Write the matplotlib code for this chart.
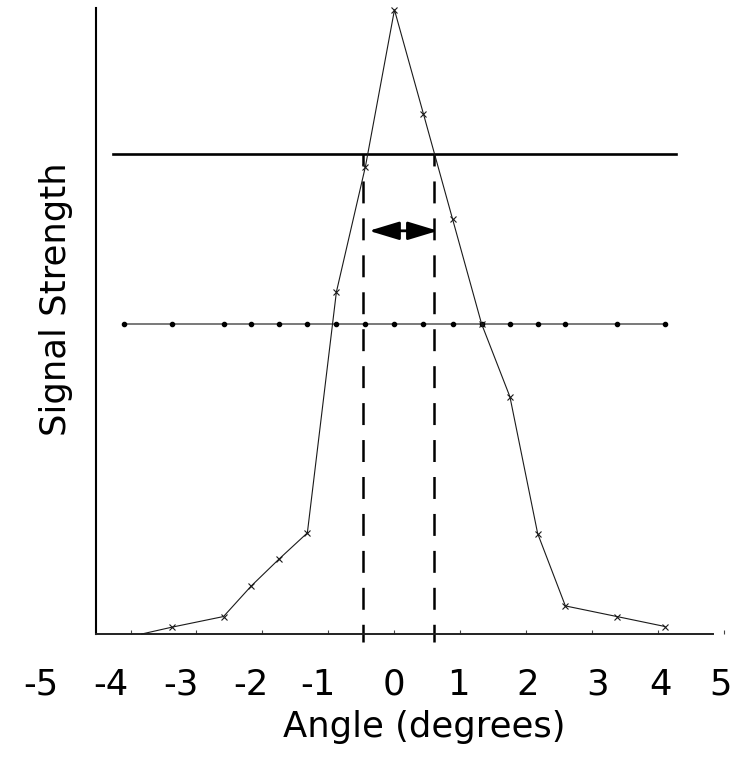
import matplotlib.pyplot as plt
from matplotlib.patches import FancyArrowPatch

plt.rcParams['font.family'] = ['DejaVu Sans']
plt.rcParams['lines.scale_dashes'] = False

# Beam pattern samples (angle in degrees, relative signal strength)
angle = [-3.83, -3.37, -2.59, -2.17, -1.75, -1.32, -0.88, -0.44, 0.0,
         0.44, 0.88, 1.32, 1.75, 2.17, 2.59, 3.37, 4.10]
strength = [0.0, 0.011, 0.028, 0.077, 0.120, 0.162, 0.548, 0.749, 1.0,
            0.833, 0.665, 0.497, 0.380, 0.161, 0.045, 0.028, 0.012]

# Half-power level (dotted) and beamwidth reference level (solid)
half_level = 0.497
half_x = [-4.10] + angle[1:]
ref_level = 0.769
ref_span = [-4.27, 4.27]

# Beamwidth edges and the arrow between them
edges = [-0.48, 0.60]
arrow_x = [-0.386, 0.659]
arrow_y = 0.646

tick_pos = [-4, -3, -2, -1, 0, 1, 2, 3, 4, 5]
label_text = ['-5', '-4', '-3', '-2', '-1', '0', '1', '2', '3', '4', '5']
label_pos = [-5.356, -4.295, -3.235, -2.174, -1.159, -0.008, 0.962,
             2.023, 3.083, 4.038, 4.947]

fig = plt.figure(figsize=(7.41, 7.63), dpi=100)
ax = fig.add_axes([96 / 741, 129 / 763, 635 / 741, 626 / 763])
ax.set_xlim(-4.523, 5.1)
ax.set_ylim(0, 1.003)

for s in ['top', 'right']:
    ax.spines[s].set_visible(False)
ax.spines['left'].set_linewidth(1.5)
ax.spines['left'].set_color('black')
ax.spines['bottom'].set_linewidth(1.4)
ax.spines['bottom'].set_color('#222222')
ax.spines['bottom'].set_bounds(-4.523, 4.826)

ax.set_yticks([])
ax.set_xticks(tick_pos)
ax.set_xticklabels([])
ax.tick_params(axis='x', direction='in', length=3, width=0.8, color='#444444')

# curve
ax.plot(angle, strength, color='#1a1a1a', lw=0.8, marker='x', markersize=5,
        mew=0.8, markevery=list(range(1, len(angle))), clip_on=False, zorder=3)

# half-power line
ax.plot(half_x, [half_level] * len(half_x), color='#555555', lw=1.1,
        marker='o', markersize=3, mfc='black', mec='black', zorder=2)

# reference level
ax.plot(ref_span, [ref_level, ref_level], color='black', lw=1.9, zorder=2)

# beamwidth edges
for xe in edges:
    ax.plot([xe, xe], [ref_level, -0.013], color='black', lw=1.8,
            linestyle=(7.2, (15.8, 10.8)), clip_on=False, zorder=2)

arrow = FancyArrowPatch((arrow_x[0], arrow_y), (arrow_x[1], arrow_y),
                        arrowstyle='<|-|>,head_length=18.5,head_width=5.6',
                        mutation_scale=1, lw=2.0, color='black',
                        shrinkA=0, shrinkB=0, zorder=4)
ax.add_patch(arrow)

trans = ax.get_xaxis_transform()
for xp, txt in zip(label_pos, label_text):
    ax.text(xp, -0.0974, txt, transform=trans, ha='center', va='baseline',
            fontsize=25.5, clip_on=False)

fig.text(424 / 741, 26 / 763, 'Angle (degrees)', ha='center', va='baseline',
         fontsize=25.5)
fig.text(56 / 741, 464 / 763, 'Signal Strength', rotation=90,
         ha='center', va='center', fontsize=25.5)

fig.savefig('out.png', dpi=100)
plt.close(fig)
